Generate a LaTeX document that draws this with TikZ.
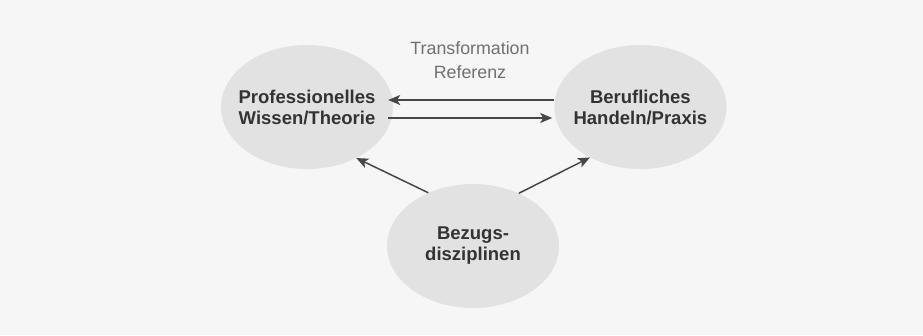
\documentclass[tikz,border=0pt]{standalone}
\usepackage{fontspec}
\setmainfont{Liberation Sans}
\usepackage{tikz}
\usetikzlibrary{arrows.meta, positioning, shapes.geometric}
\usepackage{xcolor}
\definecolor{bggray}{HTML}{F6F6F6}
\definecolor{blobgray}{HTML}{E2E2E2}
\definecolor{txtgray}{HTML}{333333}
\definecolor{arrgray}{HTML}{474747}
\definecolor{lblgray}{HTML}{707070}

\begin{document}
\begin{tikzpicture}[
  x=1pt, y=-1pt,
  blob/.style={ellipse, fill=blobgray, minimum width=172pt,
    minimum height=124pt, inner xsep=-12pt, inner ysep=-10pt, align=center,
    font=\fontsize{18.5}{21}\selectfont\bfseries, text=txtgray},
  arr/.style={-{Stealth[length=12pt, width=10pt, inset=3pt]}, line width=1.5pt, draw=arrgray},
  node distance=161pt
]
\fill[bggray] (0,0) rectangle (923,335);
\useasboundingbox (0,0) rectangle (923,335);
\node[blob] (wissen) at (307,107) {Professionelles\\Wissen/Theorie};
\node[blob, right=of wissen] (praxis) {Berufliches\\Handeln/Praxis};
\node[blob] (bezug) at (473,246) {Bezugs-\\disziplinen};
\node[align=center, text=lblgray, font=\fontsize{17.8}{24}\selectfont]
  (trans) at (470,60) {Transformation\\Referenz};
\draw[arr, shorten >=-5pt] ([yshift=7pt]praxis.west) -- ([yshift=7pt]wissen.east);
\draw[arr, shorten <=-5pt, shorten >=2pt] ([yshift=-11pt]wissen.east) -- ([yshift=-11pt]praxis.west);
\draw[arr] (bezug.130) -- (wissen.314);
\draw[arr] (bezug.49) -- (praxis.225);
\end{tikzpicture}
\end{document}
